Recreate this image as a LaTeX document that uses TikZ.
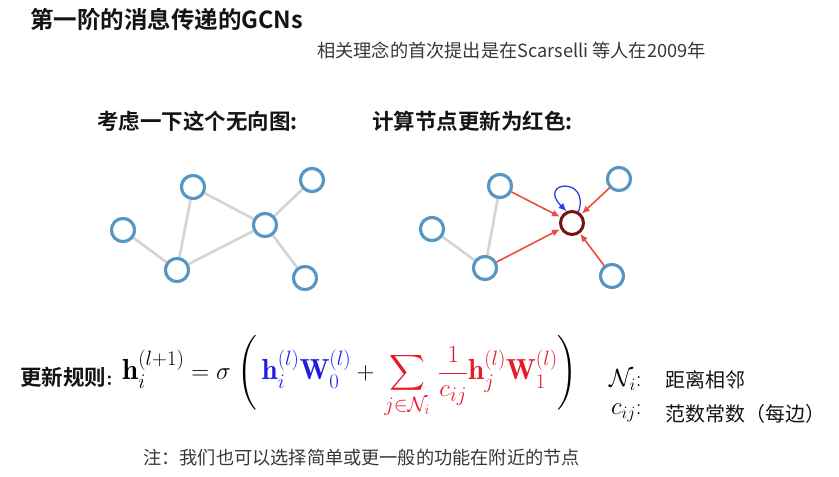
\documentclass[tikz,border=0pt]{standalone}
\usepackage{fontspec}
\usepackage{amsmath}
\usetikzlibrary{arrows.meta}
\newfontfamily\cjk{Noto Sans CJK SC}[BoldFont={Noto Sans CJK SC Bold}]
\definecolor{nodeblue}{RGB}{84,150,196}
\definecolor{edgegray}{RGB}{212,212,212}
\definecolor{arrred}{RGB}{232,78,58}
\definecolor{loopblue}{RGB}{50,60,235}
\definecolor{fred}{RGB}{228,28,40}
\definecolor{fblue}{RGB}{30,30,225}
\definecolor{darkred}{RGB}{120,18,14}
\definecolor{txt}{RGB}{20,20,20}
\tikzset{
  gnode/.style={circle, draw=nodeblue, line width=3pt, fill=white, minimum size=23pt, inner sep=0pt},
  rnode/.style={circle, draw=darkred, line width=3pt, fill=white, minimum size=23pt, inner sep=0pt},
  gedge/.style={draw=edgegray, line width=2.6pt},
  redarr/.style={draw=arrred, line width=1.6pt, -{Latex[length=8pt,width=7pt]}, shorten >=0.5pt},
  bluearr/.style={draw=loopblue, line width=1.3pt, -{Latex[length=8pt,width=7pt]}},
  title/.style={font=\cjk\bfseries\fontsize{23.5}{28}\selectfont, text=txt, inner sep=0pt},
  head/.style={font=\cjk\bfseries\fontsize{21.5}{25}\selectfont, text=txt, inner sep=0pt},
  plain/.style={font=\cjk\fontsize{18.2}{22}\selectfont, text=txt!85, inner sep=0pt},
  legend/.style={font=\cjk\fontsize{20}{24}\selectfont, text=txt, inner sep=0pt}
}
\begin{document}
\begin{tikzpicture}[x=1pt,y=-1pt]
\useasboundingbox (0,0) rectangle (839,477);
% titles
\node[title, anchor=west] (t1) at (30,19) {第一阶的消息传递的GCNs};
\node[plain, anchor=west] (t2) at (317,50) {相关理念的首次提出是在Scarselli 等人在2009年};
\node[head, anchor=west] (h1) at (97,121) {考虑一下这个无向图:};
\node[head, anchor=west] (h2) at (372,121) {计算节点更新为红色:};
% left graph
\node[gnode] (a) at (193,187) {};
\node[gnode] (b) at (123,230) {};
\node[gnode] (c) at (177,270) {};
\node[gnode] (d) at (265,225) {};
\node[gnode] (e) at (312,180) {};
\node[gnode] (f) at (305,278) {};
\draw[gedge] (a) -- (c);
\draw[gedge] (a) -- (d);
\draw[gedge] (b) -- (c);
\draw[gedge] (c) -- (d);
\draw[gedge] (d) -- (e);
\draw[gedge] (d) -- (f);
% right graph
\node[gnode] (ra) at (500,186) {};
\node[gnode] (rb) at (432,229) {};
\node[gnode] (rc) at (485,268) {};
\node[rnode] (rd) at (572,223) {};
\node[gnode] (re) at (619,179) {};
\node[gnode] (rf) at (612,276) {};
\draw[gedge] (ra) -- (rc);
\draw[gedge] (rb) -- (rc);
\draw[redarr] (ra) -- (rd);
\draw[redarr] (rc) -- (rd);
\draw[redarr] (re) -- (rd);
\draw[redarr] (rf) -- (rd);
\draw[bluearr] (rd.60) .. controls +(12,-36) and +(-30,-30) .. (rd.115);
% redraw node rings above edges
\node[gnode] at (a) {};\node[gnode] at (b) {};\node[gnode] at (c) {};
\node[gnode] at (d) {};\node[gnode] at (e) {};\node[gnode] at (f) {};
\node[gnode] at (ra) {};\node[gnode] at (rb) {};\node[gnode] at (rc) {};
\node[gnode] at (re) {};\node[gnode] at (rf) {};
% update rule
\node[head, anchor=west] (rule) at (20,377) {更新规则\rmfamily:};
\node[anchor=west, inner sep=0pt] (eq) at (122,377) {\fontsize{29}{34}\selectfont $\displaystyle
\mathbf{h}_i^{(l+1)} = \sigma\;\Biggl(\,
\color{fblue}\mathbf{h}_i^{(l)}\mathbf{W}_0^{(l)} \color{black}+ \color{fred}\,\sum_{j\in\mathcal{N}_i}\,\frac{1}{c_{ij}}\mathbf{h}_j^{(l)}\mathbf{W}_1^{(l)}\color{black}\Biggr)$};
% legend
\node[anchor=west, inner sep=0pt] (n1) at (609,380) {\fontsize{23}{27}\selectfont $\mathcal{N}_i$:};
\node[legend, anchor=west] (l1) at (665,380) {距离相邻};
\node[anchor=west, inner sep=0pt] (n2) at (611,413) {\fontsize{23}{27}\selectfont $c_{ij}$:};
\node[legend, anchor=west] (l2) at (665,414) {范数常数（每边）};
% note
\node[plain, anchor=west, font=\cjk\fontsize{18.2}{22}\selectfont] (note) at (143,458) {注：我们也可以选择简单或更一般的功能在附近的节点};
\end{tikzpicture}
\end{document}
